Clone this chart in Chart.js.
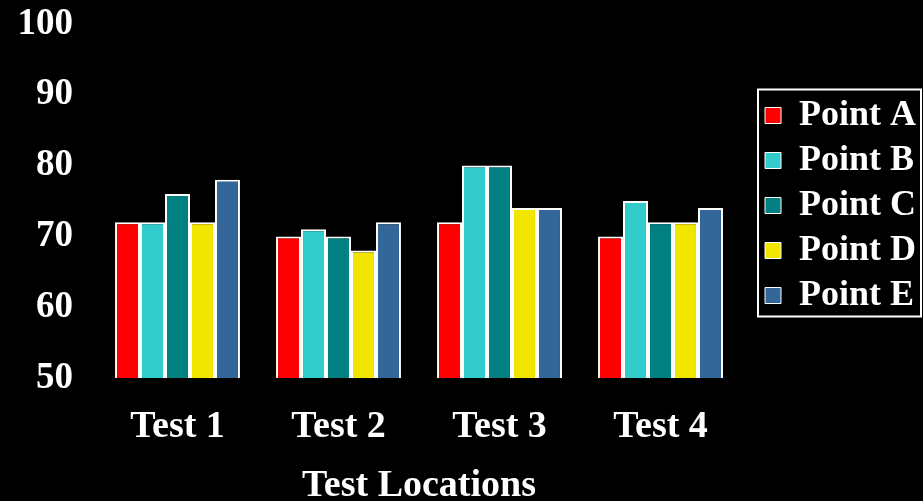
<!DOCTYPE html>
<html>
<head>
<meta charset="utf-8">
<script src="https://cdn.jsdelivr.net/npm/chart.js@4/dist/chart.umd.min.js"></script>
<style>
  html, body { margin: 0; padding: 0; background: #000; }
  #wrap { width: 923px; height: 501px; position: relative; }
</style>
</head>
<body>
<div id="wrap"><canvas id="chart"></canvas></div>
<script>
// Test locations along the x axis
const categories = ['Test 1', 'Test 2', 'Test 3', 'Test 4'];

// Readings per measuring point
const pointA = [72, 70, 72, 70];
const pointB = [72, 71, 80, 75];
const pointC = [76, 70, 80, 72];
const pointD = [72, 68, 74, 72];
const pointE = [78, 72, 74, 74];

const seriesNames = ['Point A', 'Point B', 'Point C', 'Point D', 'Point E'];
const seriesValues = [pointA, pointB, pointC, pointD, pointE];
const seriesColors = ['#FF0000', '#33CCCC', '#008080', '#F0E600', '#336699'];

// Value axis
const yMin = 50;
const yMax = 100;
const yStep = 10;

const FONT = "'Liberation Serif', 'Times New Roman', serif";

// Widen the legend column, push its entries away from the plot and lift them
const legendPlacement = {
  id: 'legendPlacement',
  beforeLayout(chart) {
    const lg = chart.legend;
    if (lg && !lg._widened) {
      const fit = lg.fit.bind(lg);
      lg.fit = function () { fit(); this.width += 12; };
      lg._widened = true;
    }
  },
  afterLayout(chart) {
    const lg = chart.legend;
    if (!lg) return;
    lg.left += 15;
    lg.top -= 45;
    lg.bottom -= 45;
  }
};

// Frame drawn around the legend entries
const legendFrame = {
  id: 'legendFrame',
  afterDraw(chart) {
    const lg = chart.legend;
    if (!lg || !lg.legendHitBoxes || !lg.legendHitBoxes.length) return;
    const boxes = lg.legendHitBoxes;
    const top = boxes[0].top - 8;
    const last = boxes[boxes.length - 1];
    const bottom = last.top + last.height + 3;
    const left = boxes[0].left - 7;
    const right = chart.width - 2;
    const ctx = chart.ctx;
    ctx.save();
    ctx.strokeStyle = '#FFFFFF';
    ctx.lineWidth = 2;
    ctx.strokeRect(left, top, right - left, bottom - top);
    ctx.restore();
  }
};

new Chart(document.getElementById('chart'), {
  type: 'bar',
  data: {
    labels: categories,
    datasets: seriesNames.map((name, i) => ({
      label: name,
      data: seriesValues[i],
      backgroundColor: seriesColors[i],
      borderColor: '#FFFFFF',
      borderWidth: 2,
      base: yMin,
      barPercentage: 1.0,
      categoryPercentage: 0.776
    }))
  },
  options: {
    responsive: true,
    maintainAspectRatio: false,
    animation: false,
    layout: { padding: 0 },
    plugins: {
      tooltip: { enabled: false },
      legend: {
        position: 'right',
        labels: {
          color: '#FFFFFF',
          font: { family: FONT, size: 36, weight: 'bold' },
          boxWidth: 16,
          boxHeight: 16,
          padding: 9,
          generateLabels(chart) {
            return chart.data.datasets.map((ds, i) => ({
              text: ds.label,
              fillStyle: ds.backgroundColor,
              strokeStyle: '#FFFFFF',
              lineWidth: 1,
              fontColor: '#FFFFFF',
              datasetIndex: i,
              hidden: false
            }));
          }
        }
      }
    },
    scales: {
      x: {
        grid: { display: false, drawTicks: false },
        border: { display: false },
        ticks: {
          color: '#FFFFFF',
          font: { family: FONT, size: 38, weight: 'bold' },
          padding: 26
        },
        title: {
          display: true,
          text: 'Test Locations',
          color: '#FFFFFF',
          font: { family: FONT, size: 38, weight: 'bold', lineHeight: 0.8 },
          padding: { top: 0, bottom: 0 }
        },
        afterFit(scale) {
          scale.height = 123;
        }
      },
      y: {
        min: yMin,
        max: yMax,
        grid: { display: false, drawTicks: false },
        border: { display: false },
        ticks: {
          stepSize: yStep,
          color: '#FFFFFF',
          font: { family: FONT, size: 37, weight: 'bold' },
          padding: 24
        },
        afterFit(scale) {
          scale.width = 97;
          scale.paddingTop = 24;
          scale.paddingBottom = 0;
        }
      }
    }
  },
  plugins: [legendPlacement, legendFrame]
});
</script>
</body>
</html>
